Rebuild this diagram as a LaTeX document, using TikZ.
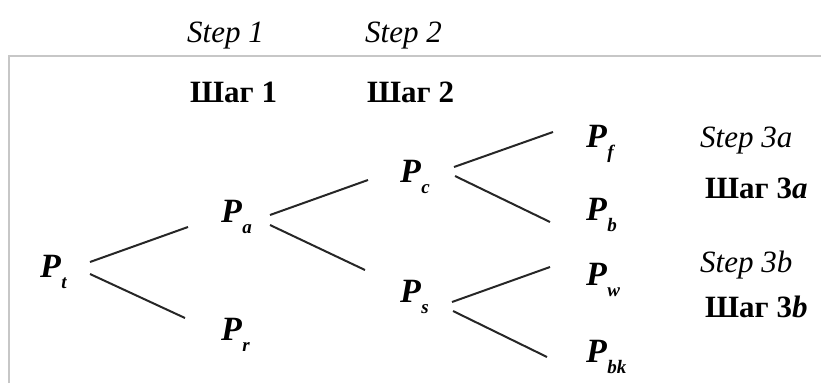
\documentclass[tikz,border=0pt]{standalone}
\usepackage{fontspec}
\setmainfont{Liberation Serif}
\usetikzlibrary{calc}

% fonts for the tree labels
\newcommand{\pmain}{\fontsize{34}{34}\selectfont\bfseries\itshape}
\newcommand{\psub}{\fontsize{19}{19}\selectfont\bfseries\itshape}
\newcommand{\prob}[1]{{\pmain P}\hspace{0.5pt}\raisebox{-11pt}{\psub #1}}

\tikzset{
  pnode/.style={inner sep=0pt, outer sep=0pt, anchor=base west},
  steplabel/.style={inner sep=0pt, anchor=base west, font=\fontsize{31}{31}\selectfont\itshape},
  shaglabel/.style={inner sep=0pt, anchor=base west, font=\fontsize{31}{31}\selectfont\bfseries},
  branch/.style={line width=2pt, draw=black!85},
  frameline/.style={line width=2pt, draw=black!22}
}

\begin{document}
\begin{tikzpicture}[x=1pt, y=-1pt]
  \useasboundingbox (0,0) rectangle (821,383);

  % frame around the tree
  \draw[frameline] (9,383) -- (9,56) -- (821,56);

  % step captions
  \node[steplabel] (s1) at (187,42) {Step 1};
  \node[steplabel] (s2) at (365,42) {Step 2};
  \node[shaglabel] (h1) at (190,102) {Шаг 1};
  \node[shaglabel] (h2) at (367,102) {Шаг 2};
  \node[steplabel] (s3a) at (700,147) {Step 3a};
  \node[shaglabel] (h3a) at (705,198) {Шаг 3\textit{a}};
  \node[steplabel] (s3b) at (700,272) {Step 3b};
  \node[shaglabel] (h3b) at (705,317) {Шаг 3\textit{b}};

  % probability nodes
  \node[pnode] (pt)  at (40,277)  {\prob{t}};
  \node[pnode] (pa)  at (221,222) {\prob{a}};
  \node[pnode] (pr)  at (221,340) {\prob{r}};
  \node[pnode] (pc)  at (400,182) {\prob{c}};
  \node[pnode] (ps)  at (400,302) {\prob{s}};
  \node[pnode] (pf)  at (586,147) {\prob{f}};
  \node[pnode] (pb)  at (586,220) {\prob{b}};
  \node[pnode] (pw)  at (586,285) {\prob{w}};
  \node[pnode] (pbk) at (586,362) {\prob{bk}};

  % branches
  \draw[branch] ($(pt.base west)+(50,-15)$) -- ($(pa.base west)+(-33,5)$);
  \draw[branch] ($(pt.base west)+(50,-3)$)  -- ($(pr.base west)+(-36,-22)$);
  \draw[branch] ($(pa.base west)+(49,-7)$)  -- ($(pc.base west)+(-32,-2)$);
  \draw[branch] ($(pa.base west)+(49,3)$)   -- ($(ps.base west)+(-35,-32)$);
  \draw[branch] ($(pc.base west)+(54,-15)$) -- ($(pf.base west)+(-33,-15)$);
  \draw[branch] ($(pc.base west)+(55,-6)$)  -- ($(pb.base west)+(-36,2)$);
  \draw[branch] ($(ps.base west)+(52,0)$)   -- ($(pw.base west)+(-36,-18)$);
  \draw[branch] ($(ps.base west)+(53,9)$)   -- ($(pbk.base west)+(-39,-5)$);
\end{tikzpicture}
\end{document}
